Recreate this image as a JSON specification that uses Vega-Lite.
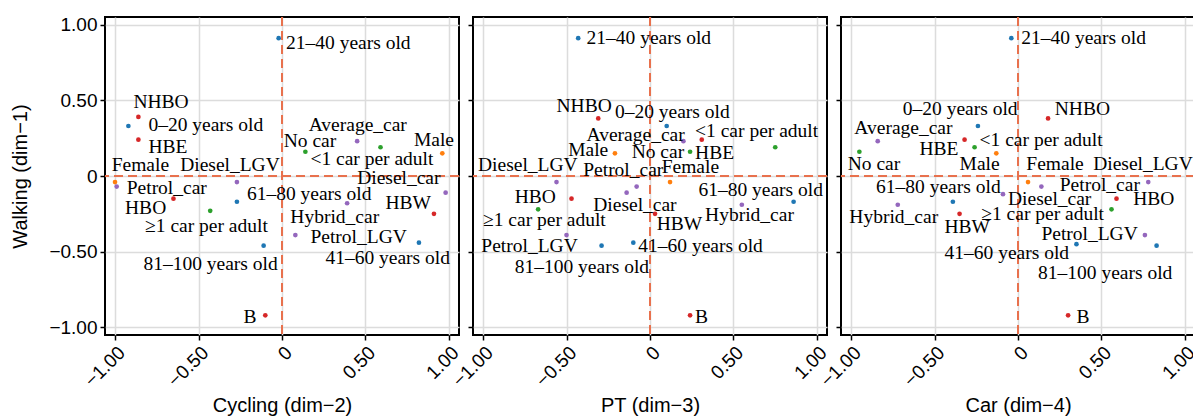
{
  "$schema": "https://vega.github.io/schema/vega-lite/v6.json",
  "padding": {"left": 9, "top": 14, "right": 0, "bottom": 0},
  "background": "white",
  "bounds": "flush",
  "datasets": {
    "pts": [
      {"p": 2, "name": "21–40 years old", "g": "age", "x": -0.02, "y": 0.91, "lx": 0.024, "ly": 0.88},
      {"p": 2, "name": "NHBO", "g": "purpose", "x": -0.86, "y": 0.39, "lx": -0.89, "ly": 0.49},
      {"p": 2, "name": "0–20 years old", "g": "age", "x": -0.92, "y": 0.33, "lx": -0.80, "ly": 0.34},
      {"p": 2, "name": "HBE", "g": "purpose", "x": -0.86, "y": 0.24, "lx": -0.80, "ly": 0.19},
      {"p": 2, "name": "Female", "g": "gender", "x": -1.0, "y": -0.04, "lx": -1.02, "ly": 0.07},
      {"p": 2, "name": "Petrol_car", "g": "vehicle", "x": -0.99, "y": -0.07, "lx": -0.93, "ly": -0.08},
      {"p": 2, "name": "HBO", "g": "purpose", "x": -0.65, "y": -0.15, "lx": -0.94, "ly": -0.21},
      {"p": 2, "name": "≥1 car per adult", "g": "ownership", "x": -0.43, "y": -0.23, "lx": -0.82, "ly": -0.33},
      {"p": 2, "name": "Diesel_LGV", "g": "vehicle", "x": -0.27, "y": -0.04, "lx": -0.61, "ly": 0.07},
      {"p": 2, "name": "61–80 years old", "g": "age", "x": -0.27, "y": -0.17, "lx": -0.21, "ly": -0.12},
      {"p": 2, "name": "81–100 years old", "g": "age", "x": -0.11, "y": -0.46, "lx": -0.83, "ly": -0.58},
      {"p": 2, "name": "B", "g": "purpose", "x": -0.10, "y": -0.92, "lx": -0.23, "ly": -0.93},
      {"p": 2, "name": "No car", "g": "ownership", "x": 0.14, "y": 0.16, "lx": 0.01, "ly": 0.23},
      {"p": 2, "name": "Average_car", "g": "vehicle", "x": 0.45, "y": 0.23, "lx": 0.16, "ly": 0.34},
      {"p": 2, "name": "<1 car per adult", "g": "ownership", "x": 0.59, "y": 0.19, "lx": 0.17, "ly": 0.11},
      {"p": 2, "name": "Male", "g": "gender", "x": 0.96, "y": 0.15, "lx": 0.79, "ly": 0.24},
      {"p": 2, "name": "Diesel_car", "g": "vehicle", "x": 0.98, "y": -0.11, "lx": 0.45, "ly": -0.01},
      {"p": 2, "name": "HBW", "g": "purpose", "x": 0.91, "y": -0.25, "lx": 0.62, "ly": -0.18},
      {"p": 2, "name": "Hybrid_car", "g": "vehicle", "x": 0.39, "y": -0.18, "lx": 0.05, "ly": -0.27},
      {"p": 2, "name": "Petrol_LGV", "g": "vehicle", "x": 0.08, "y": -0.39, "lx": 0.17, "ly": -0.40},
      {"p": 2, "name": "41–60 years old", "g": "age", "x": 0.82, "y": -0.44, "lx": 0.26, "ly": -0.54},

      {"p": 3, "name": "21–40 years old", "g": "age", "x": -0.43, "y": 0.91, "lx": -0.38, "ly": 0.91},
      {"p": 3, "name": "NHBO", "g": "purpose", "x": -0.31, "y": 0.38, "lx": -0.56, "ly": 0.46},
      {"p": 3, "name": "0–20 years old", "g": "age", "x": 0.10, "y": 0.33, "lx": -0.21, "ly": 0.42},
      {"p": 3, "name": "Average_car", "g": "vehicle", "x": 0.20, "y": 0.23, "lx": -0.38, "ly": 0.27},
      {"p": 3, "name": "HBE", "g": "purpose", "x": 0.31, "y": 0.24, "lx": 0.27, "ly": 0.15},
      {"p": 3, "name": "<1 car per adult", "g": "ownership", "x": 0.75, "y": 0.19, "lx": 0.27, "ly": 0.30},
      {"p": 3, "name": "Male", "g": "gender", "x": -0.21, "y": 0.15, "lx": -0.49, "ly": 0.17},
      {"p": 3, "name": "No car", "g": "ownership", "x": 0.24, "y": 0.16, "lx": -0.11, "ly": 0.16},
      {"p": 3, "name": "Diesel_LGV", "g": "vehicle", "x": -0.56, "y": -0.04, "lx": -1.03, "ly": 0.07},
      {"p": 3, "name": "Petrol_car", "g": "vehicle", "x": -0.08, "y": -0.07, "lx": -0.40, "ly": 0.04},
      {"p": 3, "name": "Female", "g": "gender", "x": 0.12, "y": -0.04, "lx": 0.07, "ly": 0.06},
      {"p": 3, "name": "Diesel_car", "g": "vehicle", "x": -0.14, "y": -0.11, "lx": -0.34, "ly": -0.19},
      {"p": 3, "name": "HBO", "g": "purpose", "x": -0.47, "y": -0.15, "lx": -0.81, "ly": -0.14},
      {"p": 3, "name": "≥1 car per adult", "g": "ownership", "x": -0.67, "y": -0.22, "lx": -1.00, "ly": -0.29},
      {"p": 3, "name": "HBW", "g": "purpose", "x": 0.03, "y": -0.25, "lx": 0.04, "ly": -0.32},
      {"p": 3, "name": "Hybrid_car", "g": "vehicle", "x": 0.55, "y": -0.19, "lx": 0.33, "ly": -0.26},
      {"p": 3, "name": "61–80 years old", "g": "age", "x": 0.86, "y": -0.17, "lx": 0.29, "ly": -0.09},
      {"p": 3, "name": "Petrol_LGV", "g": "vehicle", "x": -0.50, "y": -0.39, "lx": -1.01, "ly": -0.46},
      {"p": 3, "name": "81–100 years old", "g": "age", "x": -0.29, "y": -0.46, "lx": -0.81, "ly": -0.60},
      {"p": 3, "name": "41–60 years old", "g": "age", "x": -0.10, "y": -0.44, "lx": -0.07, "ly": -0.46},
      {"p": 3, "name": "B", "g": "purpose", "x": 0.24, "y": -0.92, "lx": 0.27, "ly": -0.93},

      {"p": 4, "name": "21–40 years old", "g": "age", "x": -0.04, "y": 0.91, "lx": 0.02, "ly": 0.91},
      {"p": 4, "name": "NHBO", "g": "purpose", "x": 0.18, "y": 0.38, "lx": 0.22, "ly": 0.44},
      {"p": 4, "name": "0–20 years old", "g": "age", "x": -0.24, "y": 0.33, "lx": -0.69, "ly": 0.44},
      {"p": 4, "name": "Average_car", "g": "vehicle", "x": -0.84, "y": 0.23, "lx": -0.98, "ly": 0.32},
      {"p": 4, "name": "HBE", "g": "purpose", "x": -0.32, "y": 0.24, "lx": -0.59, "ly": 0.18},
      {"p": 4, "name": "<1 car per adult", "g": "ownership", "x": -0.26, "y": 0.19, "lx": -0.23, "ly": 0.24},
      {"p": 4, "name": "Male", "g": "gender", "x": -0.13, "y": 0.15, "lx": -0.35, "ly": 0.08},
      {"p": 4, "name": "No car", "g": "ownership", "x": -0.95, "y": 0.16, "lx": -1.02, "ly": 0.08},
      {"p": 4, "name": "Female", "g": "gender", "x": 0.06, "y": -0.04, "lx": 0.05, "ly": 0.08},
      {"p": 4, "name": "Petrol_car", "g": "vehicle", "x": 0.14, "y": -0.07, "lx": 0.25, "ly": -0.06},
      {"p": 4, "name": "Diesel_LGV", "g": "vehicle", "x": 0.78, "y": -0.04, "lx": 0.45, "ly": 0.08},
      {"p": 4, "name": "Diesel_car", "g": "vehicle", "x": -0.09, "y": -0.12, "lx": -0.06, "ly": -0.15},
      {"p": 4, "name": "61–80 years old", "g": "age", "x": -0.39, "y": -0.17, "lx": -0.85, "ly": -0.07},
      {"p": 4, "name": "Hybrid_car", "g": "vehicle", "x": -0.72, "y": -0.19, "lx": -1.01, "ly": -0.27},
      {"p": 4, "name": "HBW", "g": "purpose", "x": -0.35, "y": -0.25, "lx": -0.44, "ly": -0.34},
      {"p": 4, "name": "HBO", "g": "purpose", "x": 0.59, "y": -0.15, "lx": 0.69, "ly": -0.15},
      {"p": 4, "name": "≥1 car per adult", "g": "ownership", "x": 0.56, "y": -0.22, "lx": -0.22, "ly": -0.25},
      {"p": 4, "name": "Petrol_LGV", "g": "vehicle", "x": 0.76, "y": -0.39, "lx": 0.14, "ly": -0.38},
      {"p": 4, "name": "41–60 years old", "g": "age", "x": 0.35, "y": -0.45, "lx": -0.44, "ly": -0.51},
      {"p": 4, "name": "81–100 years old", "g": "age", "x": 0.83, "y": -0.46, "lx": 0.12, "ly": -0.64},
      {"p": 4, "name": "B", "g": "purpose", "x": 0.30, "y": -0.92, "lx": 0.35, "ly": -0.93}
    ],
    "zero": [{"v": 0}]
  },
  "data": {"name": "pts"},
  "spacing": 14,
  "hconcat": [
    {
      "width": 354, "height": 318,
      "transform": [{"filter": "datum.p == 2"}],
      "layer": [
        {"mark": {"type": "circle", "size": 22, "opacity": 1},
         "encoding": {
           "x": {"field": "x", "type": "quantitative", "title": "Cycling (dim−2)", "scale": {"domain": [-1.06, 1.06], "nice": false, "zero": false},
                 "axis": {"values": [-1, -0.5, 0, 0.5, 1], "labelAngle": -45, "labelExpr": "datum.value == 0 ? '0' : replace(format(datum.value, '.2f'), '-', '−')", "titlePadding": 5}},
           "y": {"field": "y", "type": "quantitative", "title": "Walking (dim−1)", "scale": {"domain": [-1.05, 1.05], "nice": false, "zero": false},
                 "axis": {"values": [-1, -0.5, 0, 0.5, 1], "labelExpr": "datum.value == 0 ? '0' : replace(format(datum.value, '.2f'), '-', '−')", "titlePadding": 18}},
           "color": {"field": "g", "type": "nominal", "legend": null, "scale": {"domain": ["age", "purpose", "gender", "ownership", "vehicle"], "range": ["#1f77b4", "#d62728", "#ff7f0e", "#2ca02c", "#9467bd"]}}
         }},
        {"data": {"name": "zero"}, "mark": {"type": "rule", "color": "#e8714d", "strokeWidth": 2, "strokeDash": [9, 5]},
         "encoding": {"x": {"field": "v", "type": "quantitative", "title": "Cycling (dim−2)"}}},
        {"data": {"name": "zero"}, "mark": {"type": "rule", "color": "#e8714d", "strokeWidth": 2, "strokeDash": [9, 5]},
         "encoding": {"y": {"field": "v", "type": "quantitative", "title": "Walking (dim−1)"}}},
        {"mark": {"type": "text", "align": "left", "baseline": "middle", "font": "Liberation Serif", "fontSize": 19.5, "color": "black", "clip": true},
         "encoding": {
           "x": {"field": "lx", "type": "quantitative", "title": "Cycling (dim−2)"},
           "y": {"field": "ly", "type": "quantitative", "title": "Walking (dim−1)"},
           "text": {"field": "name"}
         }}
      ]
    },
    {
      "width": 354, "height": 318,
      "transform": [{"filter": "datum.p == 3"}],
      "layer": [
        {"mark": {"type": "circle", "size": 22, "opacity": 1},
         "encoding": {
           "x": {"field": "x", "type": "quantitative", "title": "PT (dim−3)", "scale": {"domain": [-1.06, 1.06], "nice": false, "zero": false},
                 "axis": {"values": [-1, -0.5, 0, 0.5, 1], "labelAngle": -45, "labelExpr": "datum.value == 0 ? '0' : replace(format(datum.value, '.2f'), '-', '−')", "titlePadding": 5}},
           "y": {"field": "y", "type": "quantitative", "scale": {"domain": [-1.05, 1.05], "nice": false, "zero": false},
                 "axis": {"title": null, "labels": false, "values": [-1, -0.5, 0, 0.5, 1]}},
           "color": {"field": "g", "type": "nominal", "legend": null, "scale": {"domain": ["age", "purpose", "gender", "ownership", "vehicle"], "range": ["#1f77b4", "#d62728", "#ff7f0e", "#2ca02c", "#9467bd"]}}
         }},
        {"data": {"name": "zero"}, "mark": {"type": "rule", "color": "#e8714d", "strokeWidth": 2, "strokeDash": [9, 5]},
         "encoding": {"x": {"field": "v", "type": "quantitative", "title": "PT (dim−3)"}}},
        {"data": {"name": "zero"}, "mark": {"type": "rule", "color": "#e8714d", "strokeWidth": 2, "strokeDash": [9, 5]},
         "encoding": {"y": {"field": "v", "type": "quantitative"}}},
        {"mark": {"type": "text", "align": "left", "baseline": "middle", "font": "Liberation Serif", "fontSize": 19.5, "color": "black", "clip": true},
         "encoding": {
           "x": {"field": "lx", "type": "quantitative", "title": "PT (dim−3)"},
           "y": {"field": "ly", "type": "quantitative"},
           "text": {"field": "name"}
         }}
      ]
    },
    {
      "width": 354, "height": 318,
      "transform": [{"filter": "datum.p == 4"}],
      "layer": [
        {"mark": {"type": "circle", "size": 22, "opacity": 1},
         "encoding": {
           "x": {"field": "x", "type": "quantitative", "title": "Car (dim−4)", "scale": {"domain": [-1.06, 1.06], "nice": false, "zero": false},
                 "axis": {"values": [-1, -0.5, 0, 0.5, 1], "labelAngle": -45, "labelExpr": "datum.value == 0 ? '0' : replace(format(datum.value, '.2f'), '-', '−')", "titlePadding": 5}},
           "y": {"field": "y", "type": "quantitative", "scale": {"domain": [-1.05, 1.05], "nice": false, "zero": false},
                 "axis": {"title": null, "labels": false, "values": [-1, -0.5, 0, 0.5, 1]}},
           "color": {"field": "g", "type": "nominal", "legend": null, "scale": {"domain": ["age", "purpose", "gender", "ownership", "vehicle"], "range": ["#1f77b4", "#d62728", "#ff7f0e", "#2ca02c", "#9467bd"]}}
         }},
        {"data": {"name": "zero"}, "mark": {"type": "rule", "color": "#e8714d", "strokeWidth": 2, "strokeDash": [9, 5]},
         "encoding": {"x": {"field": "v", "type": "quantitative", "title": "Car (dim−4)"}}},
        {"data": {"name": "zero"}, "mark": {"type": "rule", "color": "#e8714d", "strokeWidth": 2, "strokeDash": [9, 5]},
         "encoding": {"y": {"field": "v", "type": "quantitative"}}},
        {"mark": {"type": "text", "align": "left", "baseline": "middle", "font": "Liberation Serif", "fontSize": 19.5, "color": "black", "clip": true},
         "encoding": {
           "x": {"field": "lx", "type": "quantitative", "title": "Car (dim−4)"},
           "y": {"field": "ly", "type": "quantitative"},
           "text": {"field": "name"}
         }}
      ]
    }
  ],
  "config": {
    "view": {"stroke": "black", "strokeWidth": 2},
    "axis": {
      "grid": true, "gridColor": "#dcdcdc", "gridWidth": 1.5,
      "domain": false,
      "tickColor": "black", "tickWidth": 1.5, "tickSize": 5,
      "labelFont": "Liberation Sans", "labelFontSize": 19, "labelColor": "black", "labelPadding": 3,
      "titleFont": "Liberation Sans", "titleFontSize": 20, "titleFontWeight": "normal", "titleColor": "black"
    }
  }
}
